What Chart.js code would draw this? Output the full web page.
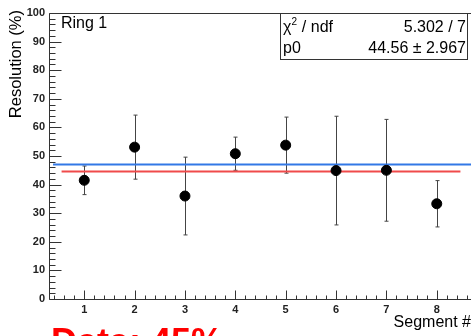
<!DOCTYPE html>
<html>
<head>
<meta charset="utf-8">
<script src="https://cdn.jsdelivr.net/npm/chart.js@4"></script>
<style>
  html, body { margin: 0; padding: 0; background: #fff; }
  #c { display: block; }
</style>
</head>
<body>
<canvas id="c" width="471" height="336"></canvas>
<script>
// Resolution per segment, Ring 1
const segments = [1, 2, 3, 4, 5, 6, 7, 8];
const resolution = [41.5, 53.1, 36.0, 50.8, 53.8, 44.9, 45.0, 33.3];
const resolutionErr = [5.0, 11.2, 13.6, 5.8, 9.8, 19.0, 17.8, 8.1];

// constant fit (pol0) and its statistics
const P0 = 44.56;
const P0_ERR = 2.967;
const CHI2 = 5.302;
const NDF = 7;
const fitRange = [0.55, 8.47];

// reference level
const refLevel = 47;
const refRange = [0.38, 8.68];

const xTicks = [1, 2, 3, 4, 5, 6, 7, 8];
const yTicks = [0, 10, 20, 30, 40, 50, 60, 70, 80, 90, 100];

const FONT = '"Liberation Sans", Arial, Helvetica, sans-serif';

// Frame, inward ticks, error bars, labels and the stats box
const rootStyle = {
  id: 'rootStyle',
  beforeDatasetsDraw(chart) {
    const ctx = chart.ctx;
    const xs = chart.scales.x, ys = chart.scales.y;
    ctx.save();
    ctx.strokeStyle = '#444';
    ctx.lineWidth = 1;
    // error bars
    segments.forEach((s, i) => {
      const px = Math.round(xs.getPixelForValue(s)) + 0.5;
      const yTop = ys.getPixelForValue(resolution[i] + resolutionErr[i]);
      const yBot = ys.getPixelForValue(resolution[i] - resolutionErr[i]);
      ctx.beginPath();
      ctx.moveTo(px, yTop); ctx.lineTo(px, yBot);
      ctx.moveTo(px - 2, yTop); ctx.lineTo(px + 2, yTop);
      ctx.moveTo(px - 2, yBot); ctx.lineTo(px + 2, yBot);
      ctx.stroke();
    });
    ctx.restore();
  },
  afterDatasetsDraw(chart) {
    const ctx = chart.ctx;
    const a = chart.chartArea;
    const xs = chart.scales.x, ys = chart.scales.y;
    ctx.save();
    ctx.strokeStyle = '#333';
    ctx.lineWidth = 1;
    const L = Math.round(a.left) + 0.5, B = Math.round(a.bottom) + 0.5, T = Math.round(a.top) + 0.5;
    // frame
    ctx.beginPath();
    ctx.moveTo(a.right + 2, T); ctx.lineTo(L, T); ctx.lineTo(L, B); ctx.lineTo(a.right + 2, B);
    ctx.stroke();
    // y ticks: major every 10, minor every 2
    ctx.beginPath();
    for (let v = 0; v <= 100; v += 2) {
      const py = Math.round(ys.getPixelForValue(v)) + 0.5;
      const len = (v % 10 === 0) ? 12 : 6;
      ctx.moveTo(L, py); ctx.lineTo(L + len, py);
    }
    // x ticks: major every 1, minor every 0.2
    for (let k = 2; k <= 43; k++) {
      const v = k / 5;
      if (v < xs.min || v > xs.max) continue;
      const px = Math.round(xs.getPixelForValue(v)) + 0.5;
      const len = (k % 5 === 0) ? 9 : 4;
      ctx.moveTo(px, B); ctx.lineTo(px, B - len);
    }
    ctx.stroke();

    // texts
    ctx.fillStyle = '#000';
    ctx.font = '16px ' + FONT;
    ctx.textBaseline = 'alphabetic';
    ctx.textAlign = 'left';
    ctx.fillText('Ring 1', 61, 28);

    // axis titles
    ctx.textAlign = 'right';
    ctx.fillText('Segment #', 471, 327);
    ctx.save();
    ctx.translate(21, 10);
    ctx.rotate(-Math.PI / 2);
    ctx.textAlign = 'right';
    ctx.font = '16.5px ' + FONT;
    ctx.fillText('Resolution (%)', 0, 0);
    ctx.restore();

    // stats box
    const bx = 280.5, by = 13.5, bw = 187, bh = 46;
    ctx.fillStyle = '#fff';
    ctx.fillRect(bx, by, bw, bh);
    ctx.strokeStyle = '#333';
    ctx.strokeRect(bx, by, bw, bh);
    ctx.fillStyle = '#000';
    ctx.textAlign = 'left';
    ctx.font = '16px ' + FONT;
    ctx.fillText('\u03C7', 283, 32);
    const chiW = ctx.measureText('\u03C7').width;
    ctx.font = '10px ' + FONT;
    ctx.fillText('2', 283 + chiW, 25);
    ctx.font = '16px ' + FONT;
    ctx.fillText(' / ndf', 283 + chiW + 6, 32);
    ctx.fillText('p0', 283, 53);
    ctx.textAlign = 'right';
    ctx.fillText(CHI2.toFixed(3) + ' / ' + NDF, 466, 32);
    ctx.fillText(P0.toFixed(2) + ' \u00B1 ' + P0_ERR.toFixed(3), 466, 53);

    // banner
    ctx.fillStyle = '#ff0000';
    ctx.textAlign = 'left';
    ctx.font = 'bold 36px ' + FONT;
    ctx.fillText('Data: 45%', 51, 354);
    ctx.restore();
  }
};

new Chart(document.getElementById('c'), {
  type: 'scatter',
  data: {
    datasets: [
      {
        label: 'Resolution',
        data: segments.map((s, i) => ({ x: s, y: resolution[i] })),
        backgroundColor: '#000',
        borderColor: '#000',
        pointRadius: 5,
        pointHoverRadius: 5,
        showLine: false
      },
      {
        label: 'pol0 fit',
        type: 'line',
        data: fitRange.map(x => ({ x: x, y: P0 })),
        borderColor: 'rgb(240,75,75)',
        borderWidth: 2,
        pointRadius: 0,
        fill: false
      },
      {
        label: 'reference',
        type: 'line',
        data: refRange.map(x => ({ x: x, y: refLevel })),
        borderColor: 'rgb(50,120,230)',
        borderWidth: 2,
        pointRadius: 0,
        fill: false
      }
    ]
  },
  options: {
    responsive: false,
    animation: false,
    devicePixelRatio: 1,
    layout: { autoPadding: false, padding: { left: 0, top: 13, right: 0, bottom: 0 } },
    plugins: { legend: { display: false }, tooltip: { enabled: false } },
    scales: {
      x: {
        type: 'linear',
        min: 0.3,
        max: 8.68,
        grid: { display: false, drawTicks: false },
        border: { display: false },
        afterBuildTicks: s => { s.ticks = xTicks.map(v => ({ value: v })); },
        afterFit: s => { s.height = 37; },
        ticks: {
          autoSkip: false, maxRotation: 0, padding: 4,
          color: '#222',
          font: { family: FONT, size: 11, weight: 'bold' },
          callback: v => String(v)
        }
      },
      y: {
        min: 0,
        max: 100,
        grid: { display: false, drawTicks: false },
        border: { display: false },
        afterBuildTicks: s => { s.ticks = yTicks.map(v => ({ value: v })); },
        afterFit: s => { s.width = 49; },
        ticks: {
          padding: 4,
          color: '#222',
          font: { family: FONT, size: 11, weight: 'bold' },
          callback: v => String(v)
        }
      }
    }
  },
  plugins: [rootStyle]
});
</script>
</body>
</html>
